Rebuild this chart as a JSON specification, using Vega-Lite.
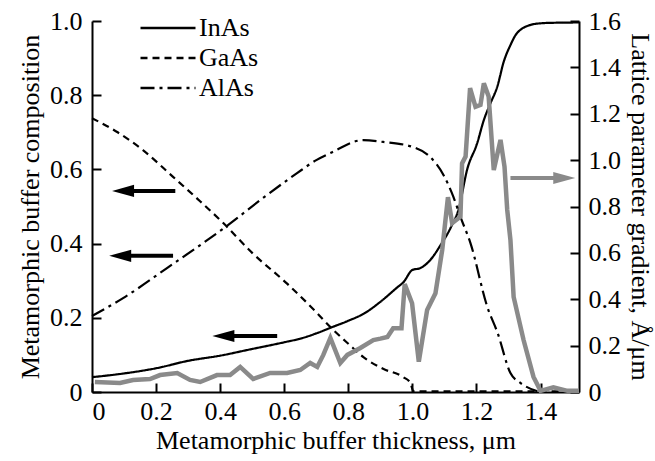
{
  "$schema": "https://vega.github.io/schema/vega-lite/v6.json",
  "width": 487,
  "height": 371,
  "autosize": "none",
  "padding": {"left": 92, "top": 21, "right": 76, "bottom": 69},
  "background": "white",
  "config": {
    "view": {"stroke": null},
    "axis": {
      "grid": false,
      "domainColor": "black",
      "domainWidth": 2,
      "labelFont": "Liberation Serif",
      "labelFontSize": 26,
      "labelColor": "black",
      "titleFont": "Liberation Serif",
      "titleFontSize": 26,
      "titleFontWeight": "normal",
      "titleColor": "black"
    },
    "legend": {
      "padding": 0,
      "labelFont": "Liberation Serif",
      "labelFontSize": 26,
      "labelColor": "black"
    }
  },
  "datasets": {
    "comp": [
      {"series": "InAs", "x": 0, "y": 0.04},
      {"series": "InAs", "x": 0.1, "y": 0.05},
      {"series": "InAs", "x": 0.2, "y": 0.064},
      {"series": "InAs", "x": 0.3, "y": 0.084},
      {"series": "InAs", "x": 0.4, "y": 0.098},
      {"series": "InAs", "x": 0.5, "y": 0.116},
      {"series": "InAs", "x": 0.6, "y": 0.134},
      {"series": "InAs", "x": 0.655, "y": 0.145},
      {"series": "InAs", "x": 0.7, "y": 0.158},
      {"series": "InAs", "x": 0.75, "y": 0.175},
      {"series": "InAs", "x": 0.8, "y": 0.192},
      {"series": "InAs", "x": 0.85, "y": 0.212},
      {"series": "InAs", "x": 0.9, "y": 0.243},
      {"series": "InAs", "x": 0.95, "y": 0.28},
      {"series": "InAs", "x": 0.972, "y": 0.296},
      {"series": "InAs", "x": 1.0, "y": 0.329},
      {"series": "InAs", "x": 1.025, "y": 0.334},
      {"series": "InAs", "x": 1.056, "y": 0.356},
      {"series": "InAs", "x": 1.088, "y": 0.396},
      {"series": "InAs", "x": 1.119, "y": 0.442},
      {"series": "InAs", "x": 1.145, "y": 0.495},
      {"series": "InAs", "x": 1.171, "y": 0.6},
      {"series": "InAs", "x": 1.202, "y": 0.67},
      {"series": "InAs", "x": 1.223, "y": 0.733},
      {"series": "InAs", "x": 1.244, "y": 0.779},
      {"series": "InAs", "x": 1.265, "y": 0.823},
      {"series": "InAs", "x": 1.285, "y": 0.89},
      {"series": "InAs", "x": 1.306, "y": 0.935},
      {"series": "InAs", "x": 1.322, "y": 0.962},
      {"series": "InAs", "x": 1.34, "y": 0.978},
      {"series": "InAs", "x": 1.36, "y": 0.987},
      {"series": "InAs", "x": 1.39, "y": 0.993},
      {"series": "InAs", "x": 1.43, "y": 0.995},
      {"series": "InAs", "x": 1.52, "y": 0.996},
      {"series": "GaAs", "x": 0, "y": 0.738},
      {"series": "GaAs", "x": 0.08, "y": 0.7},
      {"series": "GaAs", "x": 0.159, "y": 0.652},
      {"series": "GaAs", "x": 0.253, "y": 0.58},
      {"series": "GaAs", "x": 0.33, "y": 0.52},
      {"series": "GaAs", "x": 0.409, "y": 0.456},
      {"series": "GaAs", "x": 0.5, "y": 0.375},
      {"series": "GaAs", "x": 0.609, "y": 0.292},
      {"series": "GaAs", "x": 0.7, "y": 0.215},
      {"series": "GaAs", "x": 0.744, "y": 0.175},
      {"series": "GaAs", "x": 0.8, "y": 0.13},
      {"series": "GaAs", "x": 0.847, "y": 0.094},
      {"series": "GaAs", "x": 0.91, "y": 0.062},
      {"series": "GaAs", "x": 0.972, "y": 0.04},
      {"series": "GaAs", "x": 0.994, "y": 0.024},
      {"series": "GaAs", "x": 1.003, "y": 0.002},
      {"series": "GaAs", "x": 1.2, "y": 0.002},
      {"series": "GaAs", "x": 1.52, "y": 0.002},
      {"series": "AlAs", "x": 0, "y": 0.205},
      {"series": "AlAs", "x": 0.097, "y": 0.253},
      {"series": "AlAs", "x": 0.234, "y": 0.334},
      {"series": "AlAs", "x": 0.42, "y": 0.447},
      {"series": "AlAs", "x": 0.534, "y": 0.523},
      {"series": "AlAs", "x": 0.64, "y": 0.59},
      {"series": "AlAs", "x": 0.7, "y": 0.625},
      {"series": "AlAs", "x": 0.744, "y": 0.644},
      {"series": "AlAs", "x": 0.847, "y": 0.679},
      {"series": "AlAs", "x": 0.909, "y": 0.674},
      {"series": "AlAs", "x": 1.003, "y": 0.66},
      {"series": "AlAs", "x": 1.056, "y": 0.633},
      {"series": "AlAs", "x": 1.097, "y": 0.585},
      {"series": "AlAs", "x": 1.128, "y": 0.526},
      {"series": "AlAs", "x": 1.15, "y": 0.472},
      {"series": "AlAs", "x": 1.181, "y": 0.402},
      {"series": "AlAs", "x": 1.234, "y": 0.229},
      {"series": "AlAs", "x": 1.266, "y": 0.159},
      {"series": "AlAs", "x": 1.306, "y": 0.051},
      {"series": "AlAs", "x": 1.338, "y": 0.024},
      {"series": "AlAs", "x": 1.39, "y": 0.002}
    ],
    "grad": [
      {"x": 0.009, "g": 0.043},
      {"x": 0.0875, "g": 0.039},
      {"x": 0.128, "g": 0.052},
      {"x": 0.181, "g": 0.056},
      {"x": 0.2125, "g": 0.073},
      {"x": 0.266, "g": 0.082},
      {"x": 0.306, "g": 0.052},
      {"x": 0.3375, "g": 0.043},
      {"x": 0.39, "g": 0.073},
      {"x": 0.431, "g": 0.073},
      {"x": 0.4625, "g": 0.108},
      {"x": 0.503, "g": 0.056},
      {"x": 0.556, "g": 0.082},
      {"x": 0.609, "g": 0.082},
      {"x": 0.65, "g": 0.095},
      {"x": 0.681, "g": 0.125},
      {"x": 0.703, "g": 0.108},
      {"x": 0.722, "g": 0.16},
      {"x": 0.744, "g": 0.233},
      {"x": 0.775, "g": 0.125},
      {"x": 0.797, "g": 0.16},
      {"x": 0.8375, "g": 0.19},
      {"x": 0.878, "g": 0.224},
      {"x": 0.9, "g": 0.23},
      {"x": 0.922, "g": 0.237},
      {"x": 0.94, "g": 0.275},
      {"x": 0.966, "g": 0.275},
      {"x": 0.976, "g": 0.465},
      {"x": 0.999, "g": 0.383},
      {"x": 1.02, "g": 0.131},
      {"x": 1.046, "g": 0.354},
      {"x": 1.072, "g": 0.426},
      {"x": 1.093, "g": 0.612},
      {"x": 1.111, "g": 0.84},
      {"x": 1.124, "g": 0.728},
      {"x": 1.15, "g": 0.756},
      {"x": 1.155, "g": 0.986},
      {"x": 1.166, "g": 1.015},
      {"x": 1.18, "g": 1.31},
      {"x": 1.197, "g": 1.23},
      {"x": 1.2125, "g": 1.238},
      {"x": 1.223, "g": 1.331},
      {"x": 1.238, "g": 1.274},
      {"x": 1.254, "g": 0.957},
      {"x": 1.275, "g": 1.087},
      {"x": 1.2875, "g": 0.972},
      {"x": 1.296, "g": 0.785},
      {"x": 1.306, "g": 0.656},
      {"x": 1.316, "g": 0.41},
      {"x": 1.347, "g": 0.224},
      {"x": 1.378, "g": 0.065},
      {"x": 1.4, "g": 0.005},
      {"x": 1.44, "g": 0.02},
      {"x": 1.484, "g": 0.005},
      {"x": 1.52, "g": 0.005}
    ],
    "arrowsL": [
      {"hx": 0.097, "tail": 0.26, "y": 0.542},
      {"hx": 0.088, "tail": 0.253, "y": 0.367},
      {"hx": 0.41, "tail": 0.578, "y": 0.151}
    ],
    "arrowsR": [
      {"hx": 1.474, "tail": 1.306, "g": 0.923}
    ]
  },
  "layer": [
    {
      "layer": [
        {
          "data": {"name": "comp"},
          "mark": {"type": "line", "color": "black", "strokeWidth": 2.2, "interpolate": "monotone"},
          "encoding": {
            "x": {
              "field": "x", "type": "quantitative",
              "title": "Metamorphic buffer thickness, μm",
              "scale": {"domain": [0, 1.52], "nice": false, "zero": false},
              "axis": {
                "values": [0, 0.2, 0.4, 0.6, 0.8, 1.0, 1.2, 1.4],
                "labelExpr": "datum.value == 0 ? '0' : format(datum.value, '.1f')",
                "ticks": true,
                "tickColor": "black",
                "tickWidth": 2,
                "tickSize": -9,
                "labelPadding": 15,
                "titlePadding": 3
              }
            },
            "y": {
              "field": "y", "type": "quantitative",
              "title": "Metamorphic buffer composition",
              "scale": {"domain": [0, 1], "nice": false, "zero": false},
              "axis": {
                "values": [0, 0.2, 0.4, 0.6, 0.8, 1.0],
                "labelExpr": "datum.value == 0 ? '0' : format(datum.value, '.1f')",
                "ticks": true,
                "tickColor": "black",
                "tickWidth": 2,
                "tickSize": -9,
                "labelPadding": 19,
                "titlePadding": 6
              }
            },
            "strokeDash": {
              "field": "series", "type": "nominal",
              "scale": {"domain": ["InAs", "GaAs", "AlAs"], "range": [[1, 0], [7, 5], [14, 5, 3, 5]]},
              "legend": {
                "title": null,
                "orient": "none",
                "legendX": 63,
                "legendY": -6,
                "symbolType": "M-5,0H5",
                "symbolSize": 121,
                "symbolStrokeWidth": 2.5,
                "symbolStrokeColor": "black",
                "labelOffset": 18,
                "rowPadding": 4
              }
            }
          }
        },
        {
          "data": {"name": "arrowsL"},
          "mark": {"type": "rule", "color": "black", "strokeWidth": 4},
          "encoding": {
            "x": {"field": "hx", "type": "quantitative", "title": "Metamorphic buffer thickness, μm", "scale": {"domain": [0, 1.52], "nice": false, "zero": false}},
            "x2": {"field": "tail"},
            "y": {"field": "y", "type": "quantitative", "title": "Metamorphic buffer composition", "scale": {"domain": [0, 1], "nice": false, "zero": false}}
          }
        },
        {
          "data": {"name": "arrowsL"},
          "mark": {"type": "point", "shape": "M-1,0L1,-0.55L1,0.55Z", "size": 484, "filled": true, "color": "black", "opacity": 1},
          "encoding": {
            "x": {"field": "hx", "type": "quantitative", "title": "Metamorphic buffer thickness, μm", "scale": {"domain": [0, 1.52], "nice": false, "zero": false}},
            "y": {"field": "y", "type": "quantitative", "title": "Metamorphic buffer composition", "scale": {"domain": [0, 1], "nice": false, "zero": false}}
          }
        }
      ]
    },
    {
      "layer": [
        {
          "data": {"name": "grad"},
          "mark": {"type": "line", "color": "#8a8a8a", "strokeWidth": 4.5},
          "encoding": {
            "x": {"field": "x", "type": "quantitative", "title": "Metamorphic buffer thickness, μm", "scale": {"domain": [0, 1.52], "nice": false, "zero": false}},
            "y": {
              "field": "g", "type": "quantitative",
              "title": "Lattice parameter gradient, Å/μm",
              "scale": {"domain": [0, 1.6], "nice": false, "zero": false},
              "axis": {
                "orient": "right",
                "values": [0, 0.2, 0.4, 0.6, 0.8, 1.0, 1.2, 1.4, 1.6],
                "labelExpr": "datum.value == 0 ? '0' : format(datum.value, '.1f')",
                "ticks": true,
                "tickColor": "black",
                "tickWidth": 2,
                "tickSize": -9,
                "labelPadding": 18,
                "titlePadding": 6
              }
            }
          }
        },
        {
          "data": {"name": "arrowsR"},
          "mark": {"type": "rule", "color": "#8a8a8a", "strokeWidth": 4},
          "encoding": {
            "x": {"field": "tail", "type": "quantitative", "title": "Metamorphic buffer thickness, μm", "scale": {"domain": [0, 1.52], "nice": false, "zero": false}},
            "x2": {"field": "hx"},
            "y": {"field": "g", "type": "quantitative", "title": "Lattice parameter gradient, Å/μm", "scale": {"domain": [0, 1.6], "nice": false, "zero": false}}
          }
        },
        {
          "data": {"name": "arrowsR"},
          "mark": {"type": "point", "shape": "M1,0L-1,-0.55L-1,0.55Z", "size": 484, "filled": true, "color": "#8a8a8a", "opacity": 1},
          "encoding": {
            "x": {"field": "hx", "type": "quantitative", "title": "Metamorphic buffer thickness, μm", "scale": {"domain": [0, 1.52], "nice": false, "zero": false}},
            "y": {"field": "g", "type": "quantitative", "title": "Lattice parameter gradient, Å/μm", "scale": {"domain": [0, 1.6], "nice": false, "zero": false}}
          }
        }
      ]
    }
  ],
  "resolve": {"scale": {"y": "independent"}}
}
